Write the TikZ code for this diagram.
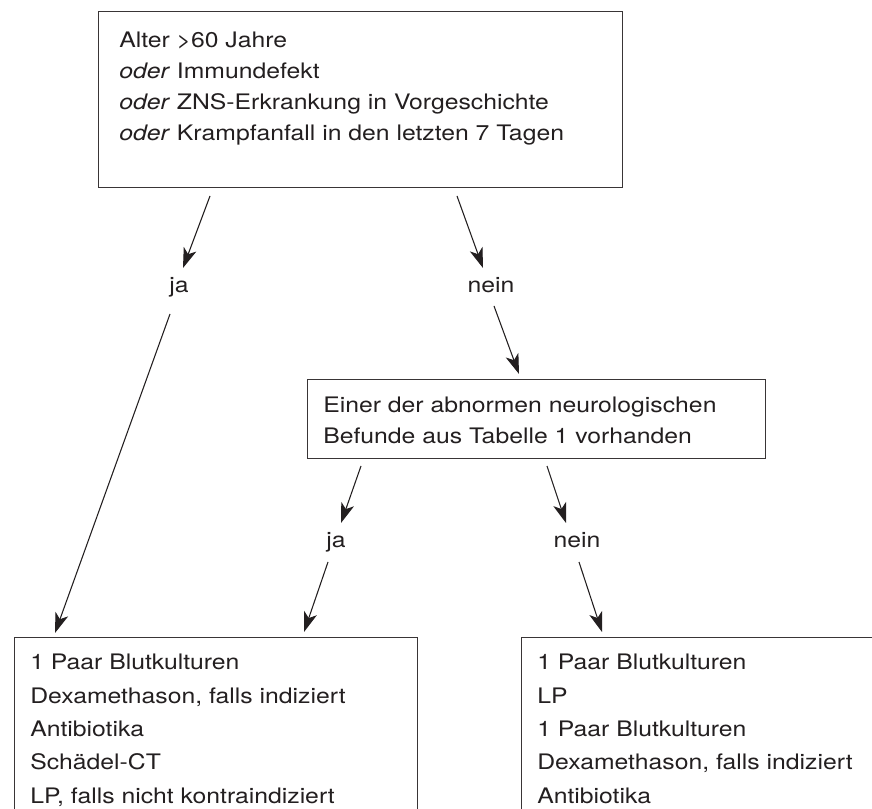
\documentclass[tikz,border=0pt]{standalone}
\usepackage{fontspec}
\setmainfont{TeX Gyre Heros}[FakeStretch=1.16]
\usetikzlibrary{arrows.meta}
\definecolor{ink}{HTML}{231F20}
\begin{document}
\begin{tikzpicture}[x=0.75pt,y=-0.75pt,
  box/.style={draw=ink!90, line width=1.1pt, inner sep=0pt, anchor=north west},
  txt/.style={anchor=north west, inner sep=0pt, align=left, text=ink,
    font=\fontsize{16pt}{23.2pt}\selectfont},
  txtb/.style={txt, font=\fontsize{16pt}{25pt}\selectfont},
  lbl/.style={anchor=base, inner sep=0pt, text=ink, font=\fontsize{16pt}{18pt}\selectfont},
  arr/.style={draw=ink, line width=0.8pt, -{Stealth[length=15pt,width=10pt,inset=4pt]}}]
\useasboundingbox (0,0) rectangle (872,809);
\clip (0,0) rectangle (872,809);
\fill[white] (0,0) rectangle (872,809);

% boxes
\node[box, minimum width=393pt, minimum height=132pt] (top) at (98,11) {};
\node[box, minimum width=343.5pt, minimum height=59.25pt] (mid) at (307,379) {};
\node[box, minimum width=302.25pt, minimum height=150pt] (bl) at (14,637) {};
\node[box, minimum width=290pt, minimum height=150pt] (br) at (521,637) {};

% texts
\node[txt] (toptxt) at (119,32) {Alter >60 Jahre\\ \textit{oder} Immundefekt\\ \textit{oder} ZNS-Erkrankung in Vorgeschichte\\ \textit{oder} Krampfanfall in den letzten 7 Tagen};
\node[txt] (midtxt) at (323,397) {Einer der abnormen neurologischen\\ Befunde aus Tabelle 1 vorhanden};
\node[txtb] (bltxt) at (30,654) {1 Paar Blutkulturen\\ Dexamethason, falls indiziert\\ Antibiotika\\ Schädel-CT\\ LP, falls nicht kontraindiziert};
\node[txtb] (brtxt) at (537,654) {1 Paar Blutkulturen\\ LP\\ 1 Paar Blutkulturen\\ Dexamethason, falls indiziert\\ Antibiotika};

% labels
\node[lbl] (ja1) at (179,293) {ja};
\node[lbl] (nein1) at (491,293) {nein};
\node[lbl] (ja2) at (336,547) {ja};
\node[lbl] (nein2) at (577,547) {nein};

% connector end points
\coordinate (a1s) at (210,196); \coordinate (a1e) at (183,268);
\coordinate (a2s) at (457,196); \coordinate (a2e) at (483,268);
\coordinate (a3s) at (170,314); \coordinate (a3e) at (55,633);
\coordinate (a4s) at (494,306); \coordinate (a4e) at (519,374);
\coordinate (a5s) at (361,466); \coordinate (a5e) at (341,523);
\coordinate (a6s) at (547,466); \coordinate (a6e) at (566,523);
\coordinate (a7s) at (328,562); \coordinate (a7e) at (304,632);
\coordinate (a8s) at (579,562); \coordinate (a8e) at (602,632);

\draw[arr] (a1s) -- (a1e);
\draw[arr] (a2s) -- (a2e);
\draw[arr] (a3s) -- (a3e);
\draw[arr] (a4s) -- (a4e);
\draw[arr] (a5s) -- (a5e);
\draw[arr] (a6s) -- (a6e);
\draw[arr] (a7s) -- (a7e);
\draw[arr] (a8s) -- (a8e);
\end{tikzpicture}
\end{document}
